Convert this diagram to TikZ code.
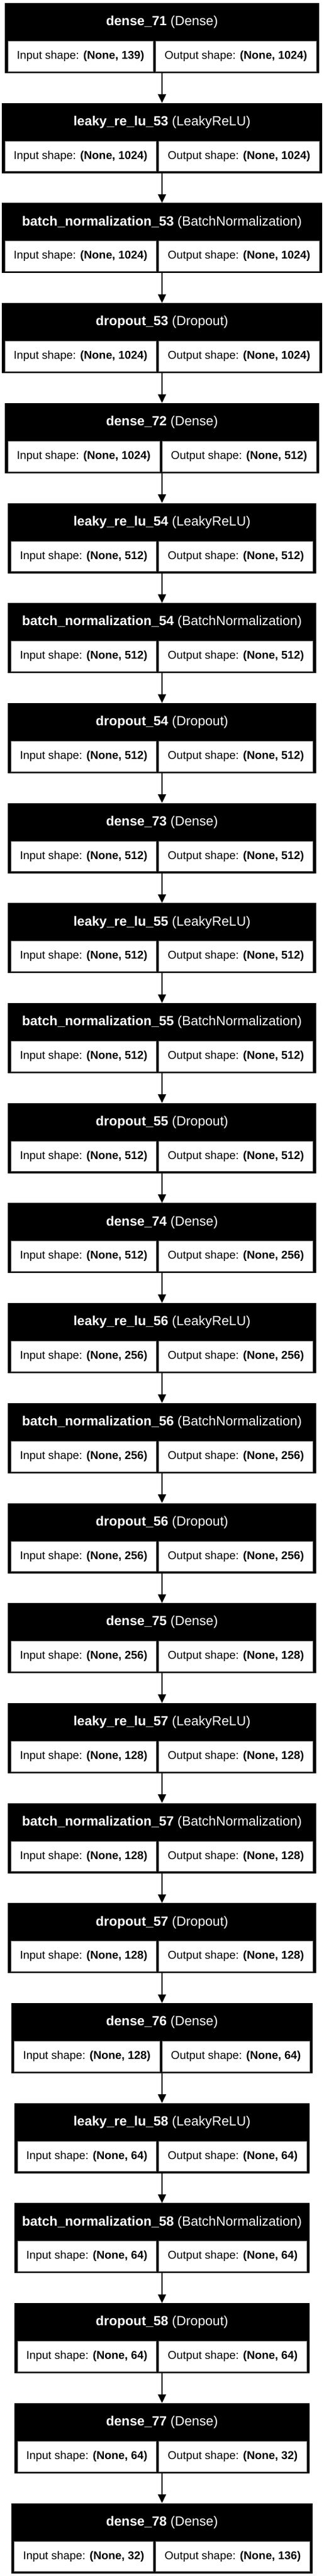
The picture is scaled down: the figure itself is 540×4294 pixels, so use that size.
\documentclass[tikz,border=0pt]{standalone}
\usepackage{fontspec}
\setmainfont{Liberation Sans}
\usetikzlibrary{arrows.meta}
\newlength\lwA \newlength\rwA
\newcommand\cellfont{\fontsize{18.85}{22}\selectfont}
\newcommand\hdrfont{\fontsize{22.2}{26}\selectfont}
\tikzset{
  blkbg/.style={fill=black, draw=none, inner sep=0pt, outer sep=0pt, minimum height=117pt},
  hdrtext/.style={text=white, inner sep=0pt, font=\hdrfont},
  cellbox/.style={fill=white, draw=black!60, line width=0.5pt, inner sep=0pt, outer sep=0pt, minimum height=50.7pt, font=\cellfont},
  arr/.style={line width=2.3pt, -{Triangle[length=14.5pt, width=13.3pt]}, shorten >=0pt}
}
\newcommand\layerdata{%
\Lyr{0}{dense\_71}{Dense}{(None, 139)}{(None, 1024)}
\Lyr{1}{leaky\_re\_lu\_53}{LeakyReLU}{(None, 1024)}{(None, 1024)}
\Lyr{2}{batch\_normalization\_53}{BatchNormalization}{(None, 1024)}{(None, 1024)}
\Lyr{3}{dropout\_53}{Dropout}{(None, 1024)}{(None, 1024)}
\Lyr{4}{dense\_72}{Dense}{(None, 1024)}{(None, 512)}
\Lyr{5}{leaky\_re\_lu\_54}{LeakyReLU}{(None, 512)}{(None, 512)}
\Lyr{6}{batch\_normalization\_54}{BatchNormalization}{(None, 512)}{(None, 512)}
\Lyr{7}{dropout\_54}{Dropout}{(None, 512)}{(None, 512)}
\Lyr{8}{dense\_73}{Dense}{(None, 512)}{(None, 512)}
\Lyr{9}{leaky\_re\_lu\_55}{LeakyReLU}{(None, 512)}{(None, 512)}
\Lyr{10}{batch\_normalization\_55}{BatchNormalization}{(None, 512)}{(None, 512)}
\Lyr{11}{dropout\_55}{Dropout}{(None, 512)}{(None, 512)}
\Lyr{12}{dense\_74}{Dense}{(None, 512)}{(None, 256)}
\Lyr{13}{leaky\_re\_lu\_56}{LeakyReLU}{(None, 256)}{(None, 256)}
\Lyr{14}{batch\_normalization\_56}{BatchNormalization}{(None, 256)}{(None, 256)}
\Lyr{15}{dropout\_56}{Dropout}{(None, 256)}{(None, 256)}
\Lyr{16}{dense\_75}{Dense}{(None, 256)}{(None, 128)}
\Lyr{17}{leaky\_re\_lu\_57}{LeakyReLU}{(None, 128)}{(None, 128)}
\Lyr{18}{batch\_normalization\_57}{BatchNormalization}{(None, 128)}{(None, 128)}
\Lyr{19}{dropout\_57}{Dropout}{(None, 128)}{(None, 128)}
\Lyr{20}{dense\_76}{Dense}{(None, 128)}{(None, 64)}
\Lyr{21}{leaky\_re\_lu\_58}{LeakyReLU}{(None, 64)}{(None, 64)}
\Lyr{22}{batch\_normalization\_58}{BatchNormalization}{(None, 64)}{(None, 64)}
\Lyr{23}{dropout\_58}{Dropout}{(None, 64)}{(None, 64)}
\Lyr{24}{dense\_77}{Dense}{(None, 64)}{(None, 32)}
\Lyr{25}{dense\_78}{Dense}{(None, 32)}{(None, 136)}
}
% measuring pass (outside the picture)
\newcommand\MeasLyr[5]{%
  \settowidth\lwA{\cellfont Input shape: \textbf{#4}}%
  \expandafter\xdef\csname LW#1\endcsname{\the\lwA}%
  \settowidth\rwA{\cellfont Output shape: \textbf{#5}}%
  \expandafter\xdef\csname RW#1\endcsname{\the\rwA}%
}
% drawing pass
\newcommand\DrawLyr[5]{%
  \edef\LWv{\csname LW#1\endcsname}%
  \edef\RWv{\csname RW#1\endcsname}%
  \pgfmathsetmacro\T{-5-#1*166.7}%
  \pgfmathsetmacro\W{\LWv+\RWv+74}%
  \pgfmathsetmacro\XA{270-\W/2}%
  \pgfmathsetmacro\XB{270+\W/2}%
  \pgfmathsetmacro\CL{\LWv+30}%
  \pgfmathsetmacro\CR{\RWv+30}%
  \node[blkbg, minimum width=\W pt, anchor=north] (b#1) at (270,\T) {};
  \node[hdrtext] (h#1) at (270,\T-32) {\textbf{#2} (#3)};
  \node[cellbox, minimum width=\CL pt, anchor=north west] (i#1) at (\XA+5,\T-63.3) {Input shape: \textbf{#4}};
  \node[cellbox, minimum width=\CR pt, anchor=north east] (o#1) at (\XB-5,\T-63.3) {Output shape: \textbf{#5}};
}
\begin{document}
\let\Lyr\MeasLyr\layerdata
\begin{tikzpicture}[x=1pt,y=1pt]
\useasboundingbox[fill=white] (0,0) rectangle (540,-4294);
\let\Lyr\DrawLyr
\layerdata
\foreach \i [evaluate=\i as \j using int(\i+1)] in {0,...,24}{
  \draw[arr] (b\i.south) -- (b\j.north);
}
\end{tikzpicture}
\end{document}
